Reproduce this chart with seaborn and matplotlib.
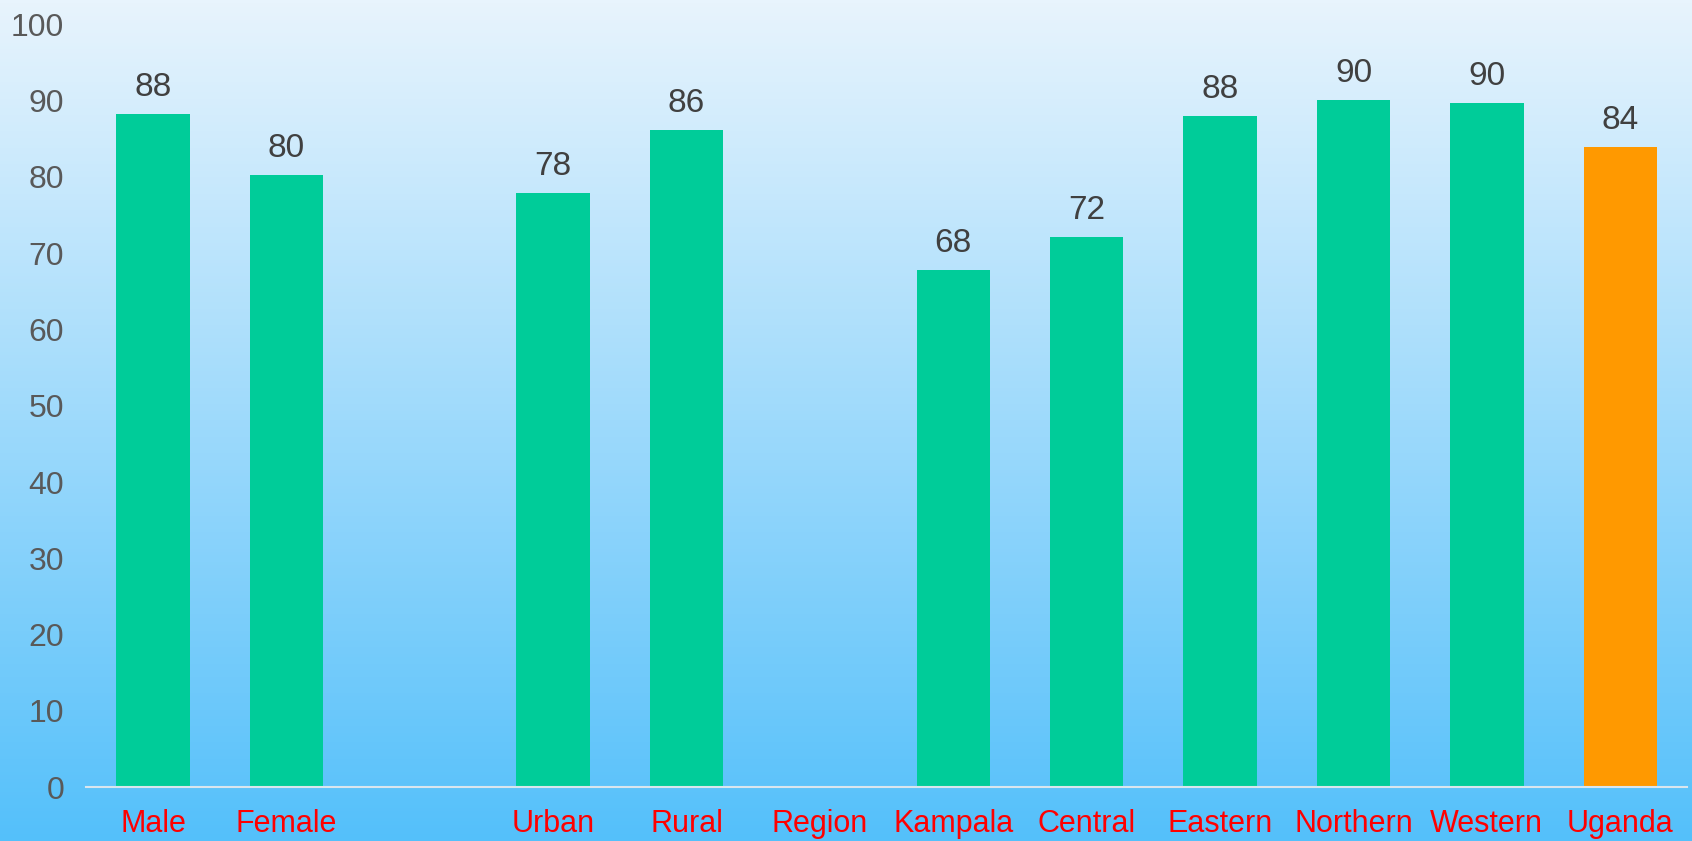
# Bar chart by background characteristic, with a sky-blue gradient backdrop

import numpy as np
import pandas as pd
import matplotlib
matplotlib.use('Agg')
import matplotlib.pyplot as plt
import seaborn as sns

# Data (empty slot between the sex and residence groups, "Region" is a header)
categories = ['Male', 'Female', ' ', 'Urban', 'Rural', 'Region',
              'Kampala', 'Central', 'Eastern', 'Northern', 'Western', 'Uganda']
values = [88.2, 80.2, np.nan, 77.9, 86.1, np.nan,
          67.8, 72.1, 88.0, 90.1, 89.7, 83.9]
groups = ['sub', 'sub', 'sub', 'sub', 'sub', 'sub',
          'sub', 'sub', 'sub', 'sub', 'sub', 'total']

df = pd.DataFrame({'category': categories, 'value': values, 'group': groups})

sns.set_theme(style='white')
plt.rcParams['font.family'] = ['Liberation Sans', 'DejaVu Sans']

fig = plt.figure(figsize=(16.92, 8.41), dpi=100)

# Gradient background over the whole figure
bg = fig.add_axes([0, 0, 1, 1], zorder=0)
top = np.array([232, 244, 253]) / 255
bottom = np.array([84, 192, 250]) / 255
t = np.linspace(0, 1, 256)[:, None]
grad = (1 - t) * top + t * bottom
bg.imshow(grad[:, None, :].repeat(2, axis=1), aspect='auto',
          extent=[0, 1, 0, 1])
bg.set_axis_off()

ax = fig.add_axes([0.051, 0.064, 0.946, 0.907], zorder=1)
ax.set_facecolor('none')

sns.barplot(
    data=df, x='category', y='value', hue='group',
    palette={'sub': '#00CC99', 'total': '#FF9900'}, saturation=1,
    order=categories, dodge=False, width=0.55, legend=False,
    linewidth=0, ax=ax
)

# Value labels
for container in ax.containers:
    ax.bar_label(container, fmt='%.0f', padding=8, fontsize=24,
                 color='#404040')

ax.set_ylim(0, 100)
ax.set_xlim(-0.5, len(categories) - 0.5)
ax.set_yticks(range(0, 101, 10))
ax.set_xlabel('')
ax.set_ylabel('')
ax.tick_params(axis='y', labelsize=23, labelcolor='#595959', pad=16, length=0)
ax.tick_params(axis='x', labelsize=22, labelcolor='#FF0000', pad=16, length=0)

for side in ['top', 'right', 'left']:
    ax.spines[side].set_visible(False)
ax.spines['bottom'].set_color('#D9E6EE')
ax.spines['bottom'].set_linewidth(1.5)
ax.grid(False)

fig.savefig('out.png', dpi=100)
